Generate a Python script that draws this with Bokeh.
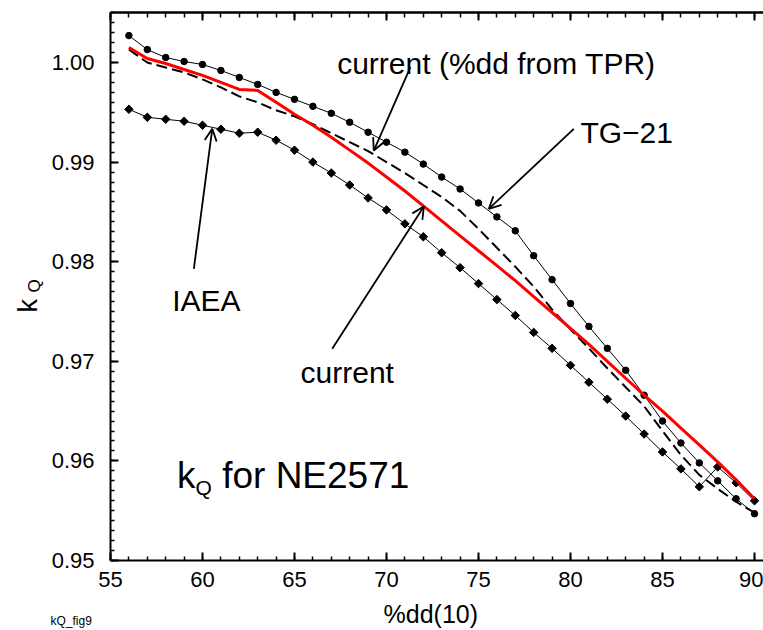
from bokeh.plotting import figure
from bokeh.models import (Range1d, LinearAxis, Label, Arrow, OpenHead, FixedTicker,
                          ColumnDataSource, SingleIntervalTicker, PrintfTickFormatter)
from bokeh.embed import file_html
from bokeh.resources import INLINE

# %dd(10) values (abscissa for all series)
dd = list(range(56, 91))

# TG-21 (circles)
tg21 = [1.0027, 1.0013, 1.0005, 1.0001, 0.9998, 0.9992, 0.9985, 0.9978, 0.9970, 0.9963,
        0.9956, 0.9949, 0.9940, 0.9930, 0.9920, 0.9910, 0.9898, 0.9885, 0.9873, 0.9859,
        0.9845, 0.9831, 0.9806, 0.9782, 0.9758, 0.9735, 0.9713, 0.9691, 0.9666, 0.9640,
        0.9618, 0.9598, 0.9580, 0.9562, 0.9547]

# IAEA (diamonds)
iaea = [0.9953, 0.9945, 0.9943, 0.9941, 0.9937, 0.9933, 0.9929, 0.9930, 0.9922, 0.9912,
        0.9900, 0.9889, 0.9877, 0.9864, 0.9852, 0.9838, 0.9825, 0.9809, 0.9794, 0.9778,
        0.9762, 0.9746, 0.9729, 0.9713, 0.9696, 0.9679, 0.9662, 0.9645, 0.9627, 0.9609,
        0.9592, 0.9574, 0.9594, 0.9578, 0.9560]

# current (red)
current = [1.0015, 1.0004, 0.9999, 0.9993, 0.9987, 0.9980, 0.9973, 0.9972, 0.9960, 0.9948,
           0.9937, 0.9925, 0.9912, 0.9899, 0.9885, 0.9871, 0.9856, 0.9841, 0.9826, 0.9811,
           0.9796, 0.9781, 0.9765, 0.9749, 0.9733, 0.9717, 0.9700, 0.9683, 0.9666, 0.9650,
           0.9633, 0.9616, 0.9599, 0.9581, 0.9562]

# current (%dd from TPR) (dashed)
current_tpr = [1.0013, 1.0000, 0.9995, 0.9990, 0.9983, 0.9975, 0.9966, 0.9960, 0.9952, 0.9946,
               0.9938, 0.9929, 0.9920, 0.9911, 0.9900, 0.9889, 0.9877, 0.9865, 0.9851, 0.9833,
               0.9814, 0.9795, 0.9775, 0.9752, 0.9732, 0.9713, 0.9693, 0.9674, 0.9655, 0.9630,
               0.9606, 0.9586, 0.9572, 0.9559, 0.9548]

# axis extents
X0, X1 = 55, 90
Y0, Y1 = 0.95, 1.005
top_minor = list(range(55, 91))
top_major = list(range(55, 91, 5))

src = ColumnDataSource(dict(dd=dd, tg21=tg21, iaea=iaea, current=current, tpr=current_tpr))

FONT = "Liberation Sans"

# frame covers the whole canvas; axes are pinned at fixed data locations
XS = 18.4      # px per x unit
YS = 9960.0    # px per y unit
x_start = X0 - 110 / XS
x_end = x_start + 763 / XS
y_end = 1.00 + 62 / YS
y_start = y_end - 630 / YS

p = figure(width=763, height=630, output_backend="svg", toolbar_location=None,
           title=None, x_axis_location=None, y_axis_location=None,
           x_range=Range1d(x_start, x_end), y_range=Range1d(y_start, y_end),
           min_border=0, min_border_left=0, min_border_right=0,
           min_border_top=0, min_border_bottom=0)
p.background_fill_color = "white"
p.border_fill_color = "white"
p.outline_line_color = None
p.grid.visible = False


def style(ax):
    ax.axis_line_width = 2
    ax.axis_line_color = "black"
    ax.major_tick_in = 8
    ax.major_tick_out = 0
    ax.minor_tick_in = 4
    ax.minor_tick_out = 0
    ax.major_tick_line_width = 2
    ax.minor_tick_line_width = 1.5
    ax.major_tick_line_color = "black"
    ax.minor_tick_line_color = "black"
    ax.major_label_text_font = FONT
    ax.major_label_text_color = "black"
    ax.major_label_text_font_size = "22px"


bottom = LinearAxis(ticker=SingleIntervalTicker(interval=5, num_minor_ticks=5),
                    fixed_location=Y0, bounds=(X0, x_end))
style(bottom)
bottom.major_label_standoff = 11
p.add_layout(bottom, "below")

left = LinearAxis(ticker=SingleIntervalTicker(interval=0.01, num_minor_ticks=10),
                  formatter=PrintfTickFormatter(format="%.2f"),
                  fixed_location=X0, bounds=(Y0, Y1))
style(left)
left.major_label_standoff = 16
p.add_layout(left, "left")

top1 = LinearAxis(ticker=FixedTicker(ticks=[], minor_ticks=top_minor),
                  fixed_location=Y1, bounds=(X0, x_end))
style(top1)
top1.minor_tick_in = 5
p.add_layout(top1, "above")
top2 = LinearAxis(ticker=FixedTicker(ticks=[], minor_ticks=top_major),
                  fixed_location=Y1, bounds=(X0, x_end))
style(top2)
top2.minor_tick_in = 8
top2.minor_tick_line_width = 2
p.add_layout(top2, "above")

# series
p.line("dd", "tg21", source=src, line_color="black", line_width=1)
p.scatter("dd", "tg21", source=src, marker="circle", size=6.5,
          fill_color="black", line_color="black")

p.line("dd", "iaea", source=src, line_color="black", line_width=1)
p.scatter("dd", "iaea", source=src, marker="square", angle=0.785398, size=6,
          fill_color="black", line_color="black")

p.line("dd", "tpr", source=src, line_color="black", line_width=2, line_dash="11 5")
p.line("dd", "current", source=src, line_color="#ff0000", line_width=3)


# annotations
def lab(x, y, text, size, angle=0.0):
    p.add_layout(Label(x=x, y=y, text=text, text_font=FONT, text_font_size=size,
                       text_color="black", text_baseline="alphabetic",
                       text_align="left", angle=angle))


lab(67.32, 0.99993, "current (%dd from TPR)", "30px")
lab(80.54, 0.99300, "TG\u221221", "30px")
lab(58.35, 0.97610, "IAEA", "30px")
lab(65.33, 0.96885, "current", "30px")
lab(58.62, 0.95853, "k", "37px")
lab(59.62, 0.95736, "Q", "21px")
lab(61.07, 0.95853, "for NE2571", "37px")
lab(69.84, 0.94458, "%dd(10)", "25px")
lab(51.74, 0.94388, "kQ_fig9", "12px")
lab(50.49, 0.97489, "k", "27px", angle=1.5707963)
lab(50.87, 0.97691, "Q", "17px", angle=1.5707963)


def arrow(xs, ys, xe, ye):
    p.add_layout(Arrow(end=OpenHead(size=12, line_width=1.8, line_color="black"),
                       x_start=xs, y_start=ys, x_end=xe, y_end=ye,
                       line_width=1.8, line_color="black"))


arrow(71.30, 0.99953, 69.31, 0.99116)
arrow(80.18, 0.99334, 75.56, 0.98531)
arrow(59.53, 0.97929, 60.53, 0.99334)
arrow(67.05, 0.97126, 72.03, 0.98554)

open("out.html", "w").write(file_html(p, INLINE))
